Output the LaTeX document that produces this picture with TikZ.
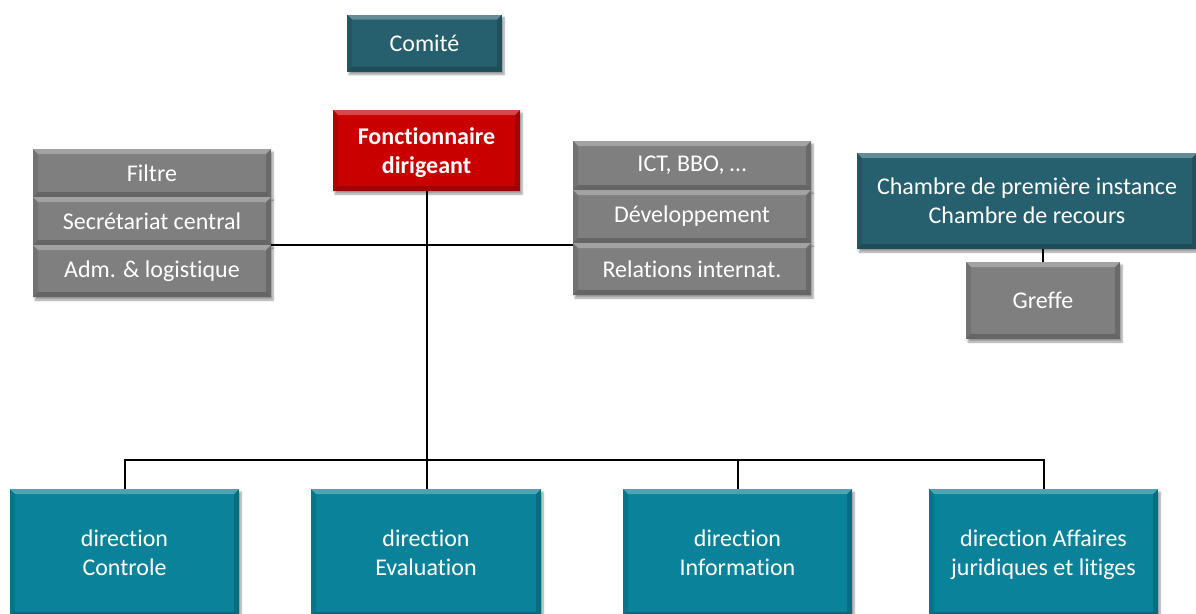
\documentclass[tikz,border=0pt]{standalone}
\usepackage{fontspec}
\setmainfont[RawFeature=-liga]{Carlito}
\usetikzlibrary{shadows.blur}

\definecolor{tealdark}{HTML}{26606E}
\definecolor{tealmid}{HTML}{0A8299}
\definecolor{redbox}{HTML}{C80000}
\definecolor{graybox}{HTML}{7F7F7F}

\tikzset{
  bevel/.style={
    path picture={
      \fill[white,opacity=0.28]
        (path picture bounding box.north west) -- (path picture bounding box.north east)
        -- ([xshift=-5pt,yshift=-5pt]path picture bounding box.north east)
        -- ([xshift=5pt,yshift=-5pt]path picture bounding box.north west) -- cycle;
      \fill[black,opacity=0.10]
        (path picture bounding box.north west) -- ([xshift=5pt,yshift=-5pt]path picture bounding box.north west)
        -- ([xshift=5pt,yshift=5pt]path picture bounding box.south west)
        -- (path picture bounding box.south west) -- cycle;
      \fill[black,opacity=0.16]
        (path picture bounding box.north east) -- ([xshift=-5pt,yshift=-5pt]path picture bounding box.north east)
        -- ([xshift=-5pt,yshift=5pt]path picture bounding box.south east)
        -- (path picture bounding box.south east) -- cycle;
      \fill[black,opacity=0.20]
        (path picture bounding box.south west) -- ([xshift=5pt,yshift=5pt]path picture bounding box.south west)
        -- ([xshift=-5pt,yshift=5pt]path picture bounding box.south east)
        -- (path picture bounding box.south east) -- cycle;
    }},
  box/.style={rectangle, inner sep=0pt, text=white, align=center, bevel,
    font=\fontsize{24}{29}\selectfont,
    blur shadow={shadow xshift=2pt, shadow yshift=-3pt, shadow blur steps=6, shadow opacity=40}},
  twoline/.style={text depth=0pt},
  darkbox/.style={box, fill=tealdark},
  rednode/.style={box, fill=redbox, font=\fontsize{24}{29}\selectfont\bfseries},
  graynode/.style={box, fill=graybox},
  dirbox/.style={box, fill=tealmid, twoline},
  link/.style={draw=black, line width=2pt},
}

\begin{document}
\begin{tikzpicture}[x=1pt,y=-1pt]
\useasboundingbox (0,0) rectangle (1196,613);

% top of the organisation
\node[darkbox, minimum width=155pt, minimum height=57pt] (comite) at (424.5,43) {Comité};
\node[rednode, twoline, minimum width=187pt, minimum height=81pt] (fonct) at (426.5,150.5) {Fonctionnaire\\dirigeant};

% staff services, left column
\node[graynode, minimum width=238pt, minimum height=48pt] (filtre) at (152,173) {Filtre};
\node[graynode, minimum width=238pt, minimum height=48pt] (secr) at (152,221) {Secrétariat central};
\node[graynode, minimum width=238pt, minimum height=52pt] (adm) at (152,271) {Adm. \& logistique};

% staff services, right column
\node[graynode, minimum width=238pt, minimum height=49pt] (ict) at (692,165.5) {ICT, BBO, …};
\node[graynode, minimum width=238pt, minimum height=53pt] (dev) at (692,216.5) {Développement};
\node[graynode, minimum width=238pt, minimum height=52pt] (rel) at (692,269) {Relations internat.};

% chambers and registry
\node[darkbox, twoline, minimum width=340pt, minimum height=96pt] (chambre) at (1027,201) {Chambre de première instance\\Chambre de recours};
\node[graynode, minimum width=154pt, minimum height=77pt] (greffe) at (1043,300.5) {Greffe};

% directorates
\node[dirbox, minimum width=229pt, minimum height=128pt] (ctrl) at (124.5,553) {direction\\Controle};
\node[dirbox, minimum width=230pt, minimum height=128pt] (eval) at (426,553) {direction\\Evaluation};
\node[dirbox, minimum width=229pt, minimum height=128pt] (info) at (737.5,553) {direction\\Information};
\node[dirbox, minimum width=229pt, minimum height=128pt] (aff) at (1043.5,553) {direction Affaires\\juridiques et litiges};

% connectors
\coordinate (bus) at (0,460);
\draw[link] (secr.south east) -- (secr.south east -| dev.west);
\draw[link] (fonct.south) -- (fonct.south |- eval.north);
\draw[link] (ctrl.north) -- (ctrl.north |- bus) -- (aff.north |- bus) -- (aff.north);
\draw[link] (info.north) -- (info.north |- bus);
\draw[link] (chambre.south -| greffe.north) -- (greffe.north);
\end{tikzpicture}
\end{document}
